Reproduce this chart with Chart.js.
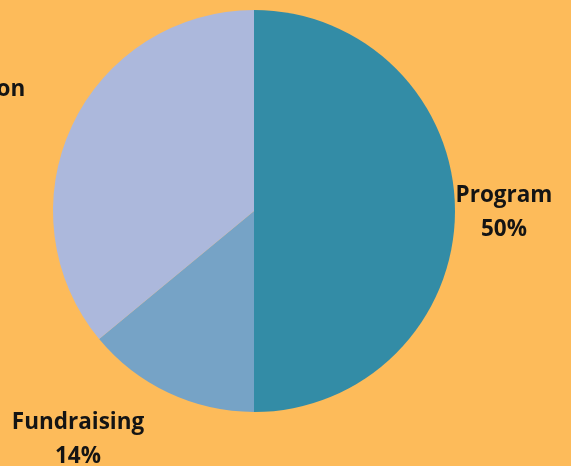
<!DOCTYPE html>
<html>
<head>
<meta charset="utf-8">
<script src="https://cdn.jsdelivr.net/npm/chart.js@4"></script>
<style>
  html, body { margin: 0; padding: 0; background: #fdbb5a; }
  #wrap { width: 571px; height: 466px; }
</style>
</head>
<body>
<div id="wrap"><canvas id="budgetChart" width="571" height="466"></canvas></div>
<script>
const categories = ['Program', 'Fundraising', 'Administration'];
const shares = [50, 14, 36];
const sliceColors = ['#338ca6', '#76a3c6', '#acb8dc'];

// where each label block is centred, in canvas pixels
const labelAnchors = [[504, 213], [78, 440], [-60, 107]];

const sliceLabels = {
  id: 'sliceLabels',
  afterDatasetsDraw(chart) {
    const ctx = chart.ctx;
    ctx.save();
    ctx.fillStyle = '#141414';
    ctx.font = 'bold 22.5px "Open Sans", sans-serif';
    ctx.textAlign = 'center';
    ctx.textBaseline = 'middle';
    chart.data.labels.forEach((name, i) => {
      const [x, y] = labelAnchors[i];
      ctx.fillText(name, x, y - 17);
      ctx.fillText(chart.data.datasets[0].data[i] + '%', x, y + 17);
    });
    ctx.restore();
  }
};

new Chart(document.getElementById('budgetChart'), {
  type: 'pie',
  data: {
    labels: categories,
    datasets: [{
      data: shares,
      backgroundColor: sliceColors,
      borderWidth: 0
    }]
  },
  options: {
    responsive: false,
    animation: false,
    layout: { padding: { top: 10, bottom: 54, left: 53, right: 116 } },
    plugins: {
      legend: { display: false },
      tooltip: { enabled: false }
    }
  },
  plugins: [sliceLabels]
});
</script>
</body>
</html>
